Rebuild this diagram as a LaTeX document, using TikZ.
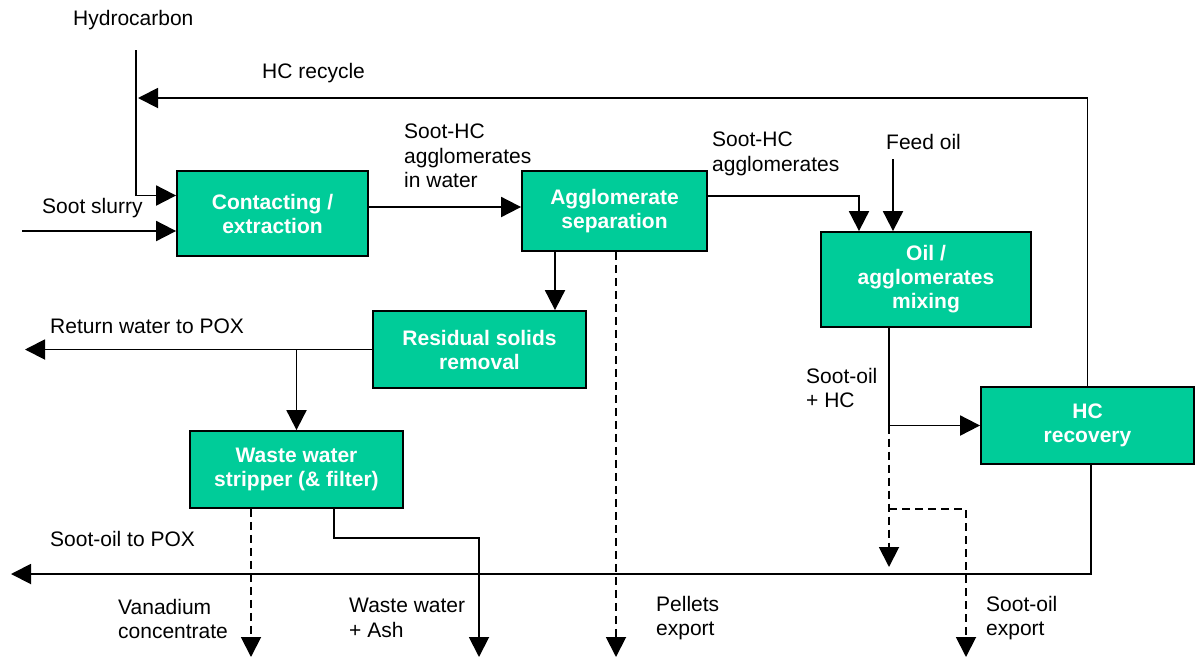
\documentclass[tikz,border=0pt]{standalone}
\usepackage{fontspec}
\setmainfont{Liberation Sans}
\usepackage{xcolor}
\usepackage{tikz}
\usetikzlibrary{positioning,calc,arrows.meta}
\definecolor{sootteal}{RGB}{0,204,153}

\begin{document}
\begin{tikzpicture}[x=1pt,y=-1pt,
  font=\fontsize{21}{24.5}\selectfont,
  unit/.style={draw=black, fill=sootteal, line width=1.8pt, text=white,
    font=\fontsize{21}{24}\selectfont\bfseries, align=center, inner sep=0pt},
  lbl/.style={anchor=west, align=left, inner sep=0pt},
  flow/.style={line width=1.9pt, -{Triangle[length=20pt,width=20pt]}},
  dflow/.style={flow, dash pattern=on 8pt off 5pt}]
\useasboundingbox (0,0) rectangle (1195,657);
%% Process units
\node[unit, minimum width=191pt, minimum height=85pt] (contact)  at (272.5,213.5) {Contacting /\\extraction};
\node[unit, minimum width=185pt, minimum height=80pt] (aggsep)   at (614.5,211)   {Agglomerate\\separation};
\node[unit, minimum width=210pt, minimum height=95pt] (mixing)   at (926,279.5)   {Oil /\\agglomerates\\mixing};
\node[unit, minimum width=213pt, minimum height=77pt] (residual) at (479.5,349.5) {Residual solids\\removal};
\node[unit, minimum width=213pt, minimum height=77pt] (stripper) at (296.5,469.5) {Waste water\\stripper (\& filter)};
\node[unit, minimum width=213pt, minimum height=77pt] (hcrec)    at (1087.5,425.5) {HC\\recovery};
%% Free stream ends
\coordinate (hcin)     at (136,50);
\coordinate (slurry)   at (22,231);
\coordinate (recycle)  at (138,98);
\coordinate (feed)     at (893,159);
\coordinate (retwater) at (25,349.5);
\coordinate (pellets)  at (616,657);
\coordinate (vanad)    at (251,657);
\coordinate (wasteout) at (479,657);
\coordinate (split)    at (889,425.5);
\coordinate (oildrop)  at (889,567);
\coordinate (oilsplit) at (889,509);
\coordinate (sootexp)  at (966,657);
\coordinate (sootpox)  at (11,574);
%% Feeds
\draw[flow] (hcin) |- ([yshift=18pt]contact.west);
\draw[flow] (slurry) -- (slurry -| contact.west);
\draw[flow] (hcrec.north) |- (recycle);
\draw[flow] ([yshift=6.5pt]contact.east) -- ([yshift=6.5pt]contact.east -| aggsep.west);
\draw[flow] ([yshift=15pt]aggsep.east) -| ([xshift=-67pt]mixing.north);
\draw[flow] (feed) -- (feed |- mixing.north);
%% Water side
\draw[flow] ([xshift=-59.5pt]aggsep.south) -- ([xshift=-59.5pt]aggsep.south |- residual.north);
\draw[dflow] ([xshift=1.5pt]aggsep.south) -- (pellets);
\draw[flow] (residual.west) -- (retwater);
\draw[flow] (stripper.north |- residual.west) -- (stripper.north);
\draw[dflow] (vanad |- stripper.south) -- (vanad);
\draw[flow] ([xshift=37.5pt]stripper.south) -- ++(0,29) -| (wasteout);
%% Oil side
\draw[flow] (split |- mixing.south) -- (split) -- (hcrec.west);
\draw[dflow] (split) -- (oildrop);
\draw[dflow] (oilsplit) -| (sootexp);
\draw[flow] ([xshift=3.5pt]hcrec.south) |- (sootpox);
%% Stream labels
\node[lbl] (lhc)    at (73,20)   {Hydrocarbon};
\node[lbl] (lrec)   at (262,73)  {HC recycle};
\node[lbl] (lslur)  at (42,208)  {Soot slurry};
\node[lbl] (lagw)   at (404,156) {Soot-HC\\agglomerates\\in water};
\node[lbl] (lag)    at (712,154) {Soot-HC\\agglomerates};
\node[lbl] (lfeed)  at (886,142) {Feed oil};
\node[lbl] (lret)   at (50,326)  {Return water to POX};
\node[lbl] (lsohc)  at (806,388) {Soot-oil\\+ HC};
\node[lbl] (lspox)  at (50,539)  {Soot-oil to POX};
\node[lbl] (lvan)   at (118,619) {Vanadium\\concentrate};
\node[lbl] (lwaste) at (349,618) {Waste water\\+ Ash};
\node[lbl] (lpel)   at (656,618) {Pellets\\export};
\node[lbl] (lsexp)  at (986,618) {Soot-oil\\export};
\end{tikzpicture}
\end{document}
